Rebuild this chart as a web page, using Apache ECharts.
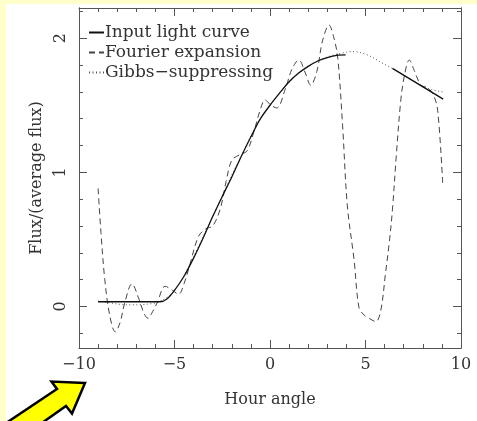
<!DOCTYPE html>
<html><head><meta charset="utf-8">
<script src="https://cdn.jsdelivr.net/npm/echarts@6/dist/echarts.min.js"></script>
<style>html,body{margin:0;padding:0;background:#ffffcc;}#c{width:477px;height:421px;}</style>
</head><body><div id="c"></div>
<script>
// Input light curve (gap between ~4 and ~6.4 marked by null)
const inputX = [-9.0, -6.5, -5.75, -5.4, -5.0, -4.5, -4.0, -3.5, -3.0, -2.5, -2.0, -1.5, -1.0, -0.5, 0.0, 0.5, 1.0, 1.5, 2.0, 2.5, 3.0, 3.5, 3.96, 5.0, 6.41, 9.07];
const inputY = [0.035, 0.035, 0.035, 0.055, 0.12, 0.225, 0.36, 0.51, 0.67, 0.82, 0.965, 1.12, 1.265, 1.40, 1.50, 1.59, 1.675, 1.74, 1.79, 1.83, 1.855, 1.872, 1.875, null, 1.775, 1.546];
// Fourier expansion
const fourierX = [-9.0, -8.85, -8.65, -8.4, -8.1, -7.85, -7.6, -7.23, -6.85, -6.6, -6.39, -6.15, -5.9, -5.49, -5.1, -4.79, -4.5, -4.2, -3.75, -3.35, -3.0, -2.6, -2.3, -2.0, -1.6, -1.2, -0.85, -0.5, -0.26, 0.05, 0.35, 0.8, 1.15, 1.51, 1.85, 2.13, 2.45, 2.75, 3.09, 3.35, 3.55, 3.8, 4.05, 4.4, 4.66, 4.93, 5.2, 5.54, 5.8, 6.05, 6.24, 6.41, 6.6, 6.85, 7.05, 7.29, 7.55, 7.9, 8.25, 8.55, 8.78, 9.04];
const fourierY = [0.88, 0.55, 0.2, -0.06, -0.19, -0.12, 0.03, 0.168, 0.05, -0.05, -0.088, -0.04, 0.03, 0.15, 0.12, 0.09, 0.17, 0.31, 0.52, 0.58, 0.60, 0.73, 0.93, 1.09, 1.13, 1.16, 1.30, 1.47, 1.54, 1.50, 1.48, 1.62, 1.77, 1.837, 1.74, 1.65, 1.75, 1.98, 2.098, 2.0, 1.85, 1.35, 0.75, 0.35, -0.01, -0.065, -0.09, -0.113, -0.03, 0.25, 0.47, 0.72, 1.1, 1.54, 1.73, 1.837, 1.76, 1.65, 1.63, 1.58, 1.46, 0.92];
// Gibbs-suppressing
const gibbsX = [-9.0, -8.5, -8.0, -7.5, -7.0, -6.5, -6.0, -5.6, -5.2, -4.9, -4.5, -4.0, -3.5, -3.0, -2.5, -2.0, -1.5, -1.0, -0.5, 0.0, 0.5, 1.0, 1.5, 2.0, 2.5, 3.0, 3.5, 4.0, 4.3, 4.8, 5.3, 5.8, 6.4, 7.0, 7.5, 8.0, 8.5, 9.04];
const gibbsY = [0.04, 0.03, 0.018, 0.012, 0.012, 0.016, 0.026, 0.05, 0.09, 0.14, 0.23, 0.37, 0.52, 0.67, 0.82, 0.98, 1.12, 1.27, 1.40, 1.50, 1.59, 1.67, 1.74, 1.79, 1.83, 1.86, 1.88, 1.895, 1.90, 1.89, 1.862, 1.82, 1.775, 1.725, 1.68, 1.64, 1.615, 1.60];

const seriesNames = ['Input light curve', 'Fourier expansion', 'Gibbs\u2212suppressing'];
const yMajorTicks = [0, 1, 2];
const yMinorTicks = [-0.2, 0.2, 0.4, 0.6, 0.8, 1.2, 1.4, 1.6, 1.8, 2.2];
const yLabelValues = [0, 1, 2];
const xName = 'Hour angle';
const yName = 'Flux/(average flux)';

const FONT = '"DejaVu Serif", serif';
const AX = '#555';
const pairs = (xs, ys) => xs.map((x, i) => [x, ys[i] === null ? '-' : ys[i]]);
const minus = v => String(v).replace('-', '\u2212');

const xBase = (pos, labels) => ({
  type: 'value', position: pos, min: -10, max: 10, interval: 5,
  axisLine: {show: true, onZero: false, lineStyle: {color: AX, width: 1}},
  axisTick: {show: true, inside: true, length: 8, lineStyle: {color: AX}},
  minorTick: {show: true, splitNumber: 5, length: 4, lineStyle: {color: AX}},
  splitLine: {show: false},
  axisLabel: labels ? {show: true, margin: 9, fontFamily: FONT, fontSize: 16, color: '#333', formatter: minus} : {show: false}
});
const yBase = (pos, ticks, len) => ({
  type: 'value', position: pos, min: -0.31, max: 2.225,
  axisLine: {show: true, onZero: false, lineStyle: {color: AX, width: 1}},
  axisTick: {show: true, inside: true, length: len, customValues: ticks, lineStyle: {color: AX}},
  splitLine: {show: false},
  axisLabel: {show: false}
});

const y0 = yBase('left', yMajorTicks, 8);
y0.axisLabel = {show: true, customValues: yLabelValues, rotate: 90, margin: 10, fontFamily: FONT, fontSize: 16, color: '#333'};
y0.name = yName; y0.nameLocation = 'middle'; y0.nameGap = 30;
y0.nameTextStyle = {fontFamily: FONT, fontSize: 16, color: '#333'};

const x0 = xBase('bottom', true);
x0.name = xName; x0.nameLocation = 'middle'; x0.nameGap = 44;
x0.nameTextStyle = {fontFamily: FONT, fontSize: 16, color: '#333'};

const chart = echarts.init(document.getElementById('c'), null, {renderer: 'canvas'});
chart.setOption({
  backgroundColor: '#ffffcc',
  animation: false,
  grid: {left: 79, right: 16, top: 8, bottom: 73, containLabel: false},
  xAxis: [x0, xBase('top', false)],
  yAxis: [y0, yBase('left', yMinorTicks, 4), yBase('right', yMajorTicks, 8), yBase('right', yMinorTicks, 4)],
  legend: {
    show: true, orient: 'vertical', left: 88, top: 24, padding: 0, itemGap: 3,
    itemWidth: 15, itemHeight: 14, selectedMode: false,
    itemStyle: {color: 'rgba(0,0,0,0)', borderColor: 'rgba(0,0,0,0)', borderWidth: 0},
    textStyle: {fontFamily: FONT, fontSize: 17, color: '#333', padding: [0, 0, 0, -4]},
    data: seriesNames
  },
  graphic: [
    {type: 'rect', z: -100, silent: true, shape: {x: 6, y: 4, width: 480, height: 430}, style: {fill: '#ffffff'}},
    {type: 'polygon', z: 100, silent: true,
     shape: {points: [[85, 383], [51.5, 381.5], [57, 389], [1.7, 426], [37.6, 426], [66, 406], [72, 413.5]]},
     style: {fill: '#ffff00', stroke: '#000', lineWidth: 2.5, lineJoin: 'miter'}}
  ],
  series: [
    {name: seriesNames[0], type: 'line', data: pairs(inputX, inputY), symbol: 'none', smooth: 0.3, connectNulls: false,
     lineStyle: {color: '#111', width: 1.3}, itemStyle: {color: '#111'}, z: 4},
    {name: seriesNames[1], type: 'line', data: pairs(fourierX, fourierY), symbol: 'none', smooth: 0.35,
     lineStyle: {color: '#444', width: 1, type: [6, 4]}, itemStyle: {color: '#444'}, z: 3},
    {name: seriesNames[2], type: 'line', data: pairs(gibbsX, gibbsY), symbol: 'none', smooth: 0.3,
     lineStyle: {color: '#555', width: 1, type: [1, 2.5]}, itemStyle: {color: '#555'}, z: 2}
  ]
});
</script></body></html>
